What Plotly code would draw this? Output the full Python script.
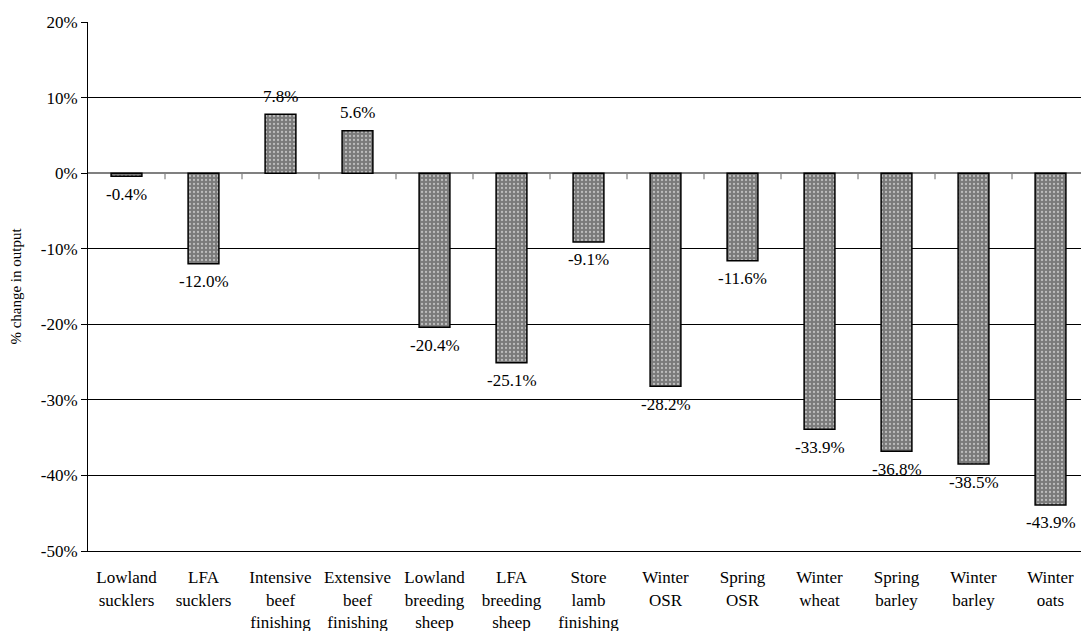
import plotly.graph_objects as go

categories = ["Lowland sucklers", "LFA sucklers", "Intensive beef finishing",
              "Extensive beef finishing", "Lowland breeding sheep", "LFA breeding sheep",
              "Store lamb finishing", "Winter OSR", "Spring OSR", "Winter wheat",
              "Spring barley", "Winter barley", "Winter oats"]
tick_labels = ["Lowland<br>sucklers", "LFA<br>sucklers", "Intensive<br>beef<br>finishing",
               "Extensive<br>beef<br>finishing", "Lowland<br>breeding<br>sheep",
               "LFA<br>breeding<br>sheep", "Store<br>lamb<br>finishing", "Winter<br>OSR",
               "Spring<br>OSR", "Winter<br>wheat", "Spring<br>barley", "Winter<br>barley",
               "Winter<br>oats"]
values = [-0.4, -12.0, 7.8, 5.6, -20.4, -25.1, -9.1, -28.2, -11.6, -33.9, -36.8, -38.5, -43.9]
y_ticks = [20, 10, 0, -10, -20, -30, -40, -50]
y_tick_labels = ["20%", "10%", "0%", "-10%", "-20%", "-30%", "-40%", "-50%"]

FONT = "Times New Roman"
x_idx = list(range(len(categories)))

fig = go.Figure()
fig.add_trace(go.Bar(
    x=x_idx, y=values, width=0.40,
    marker=dict(color="#8c8c8c",
                line=dict(color="black", width=1.5),
                pattern=dict(shape=".", fgcolor="white", bgcolor="#7a7a7a",
                             size=4, solidity=0.25)),
    hoverinfo="skip", showlegend=False,
))

for i, v in enumerate(values):
    fig.add_annotation(x=i, y=v, text=f"{v:.1f}%", showarrow=False,
                       yshift=18 if v >= 0 else -18,
                       font=dict(family=FONT, size=17))

# category boundary tick marks on the zero line
for i in range(len(categories) - 1):
    fig.add_shape(type="line", xref="x", yref="y", x0=i + 0.5, x1=i + 0.5,
                  ysizemode="pixel", yanchor=0, y0=0, y1=-6,
                  line=dict(color="#808080", width=1.2))

fig.update_layout(
    width=1081, height=631,
    margin=dict(l=88, r=0, t=22, b=80),
    plot_bgcolor="white", paper_bgcolor="white",
    font=dict(family=FONT, size=17, color="black"),
    xaxis=dict(range=[-0.5, 12.396], tickmode="array", tickvals=x_idx,
               ticktext=tick_labels, showgrid=False, zeroline=False,
               showline=True, linecolor="black", linewidth=1,
               ticks="outside", ticklen=11, tickcolor="rgba(0,0,0,0)"),
    yaxis=dict(range=[-50, 20], tickmode="array", tickvals=y_ticks,
               ticktext=y_tick_labels, showgrid=True, gridcolor="black", gridwidth=1,
               zeroline=True, zerolinecolor="#808080", zerolinewidth=1.5,
               showline=True, linecolor="black", linewidth=1,
               ticks="outside", ticklen=6, tickcolor="black",
               title=dict(text="% change in output", font=dict(family=FONT, size=15))),
)

fig.write_html("out.html")
